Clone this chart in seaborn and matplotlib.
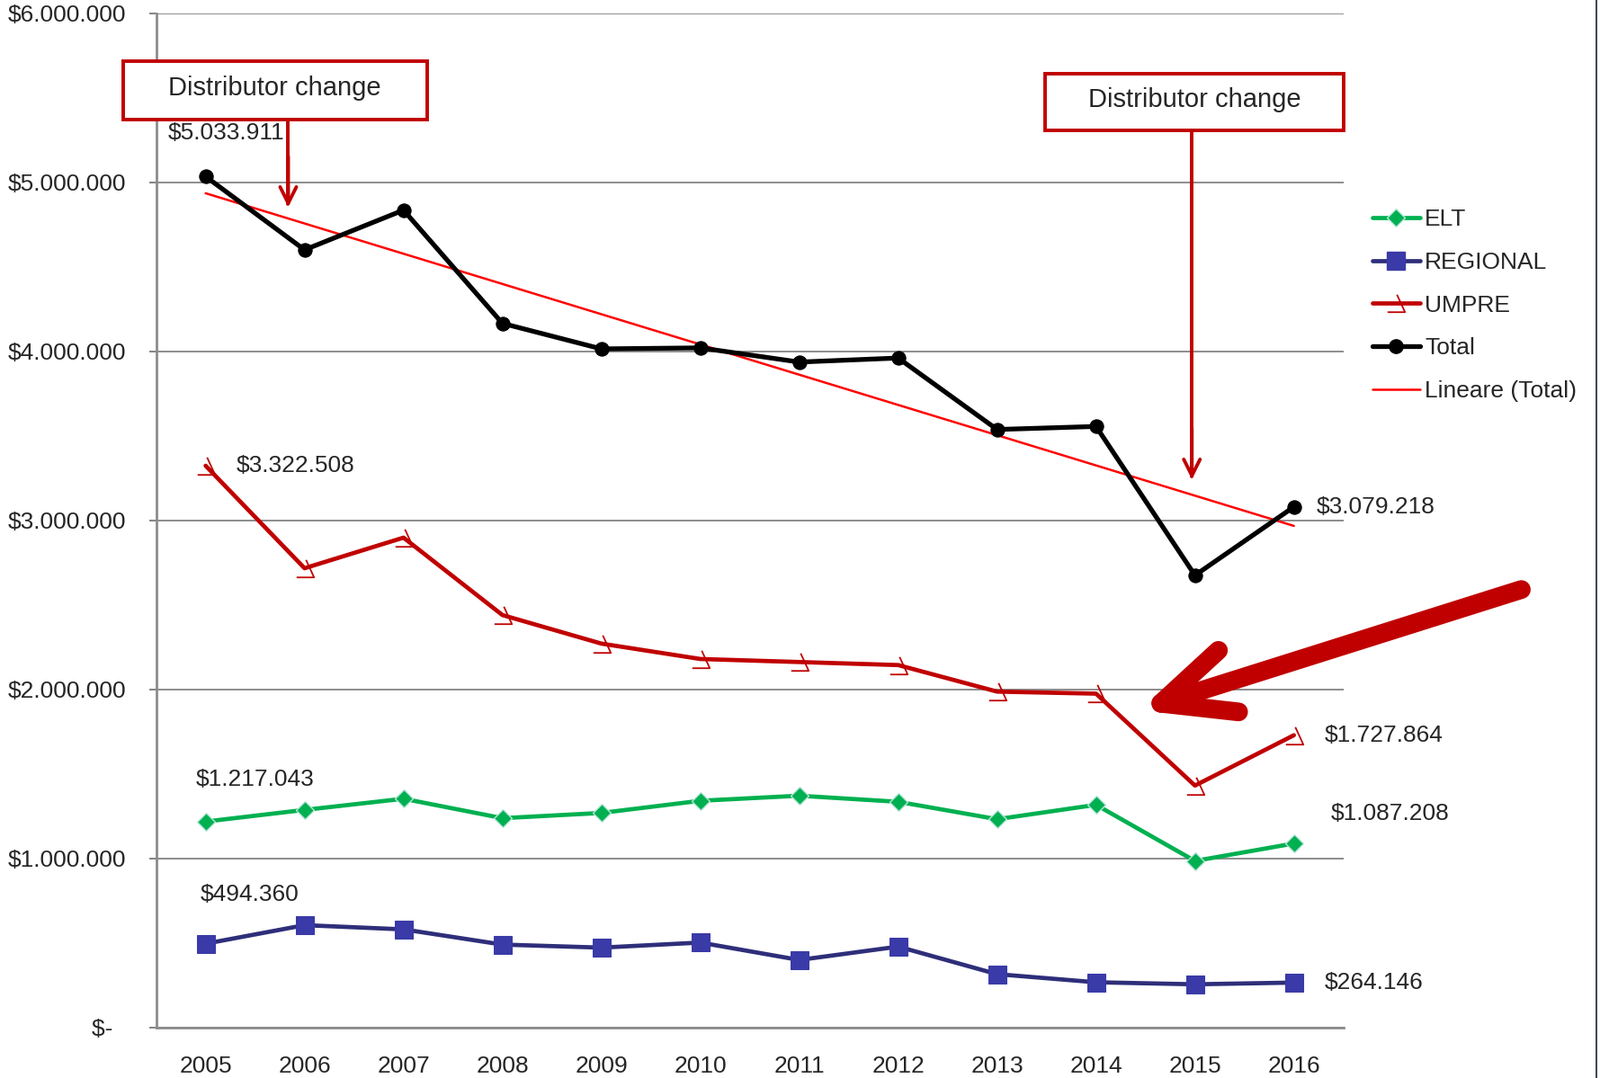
import numpy as np
import pandas as pd
import matplotlib
matplotlib.use("Agg")
import matplotlib.pyplot as plt
import seaborn as sns
from matplotlib.path import Path
from matplotlib.patches import Rectangle
from matplotlib.lines import Line2D

# ---------- data ----------
years = [2005, 2006, 2007, 2008, 2009, 2010, 2011, 2012, 2013, 2014, 2015, 2016]
elt = [1217043, 1286000, 1352000, 1237000, 1268000, 1340000, 1370000, 1334000, 1231000, 1316000, 984000, 1087208]
regional = [494360, 604000, 579000, 489000, 471000, 501000, 398000, 477000, 314000, 266000, 254000, 264146]
umpre = [3322508, 2716000, 2897000, 2439000, 2270000, 2179000, 2161000, 2143000, 1986000, 1974000, 1430000, 1727864]
total = [5033911, 4600000, 4835000, 4165000, 4014000, 4020000, 3936000, 3960000, 3537000, 3555000, 2674000, 3079218]
yticks = [0, 1000000, 2000000, 3000000, 4000000, 5000000, 6000000]
note = "Distributor change"

df = pd.DataFrame({"year": years, "ELT": elt, "REGIONAL": regional,
                   "UMPRE": umpre, "Total": total})

def money(v):
    if v == 0:
        return "$-  "
    return "$" + f"{v:,.0f}".replace(",", ".")

sns.set_style("white")
plt.rcParams['font.family'] = ['Liberation Sans', 'DejaVu Sans']
FS = 19
RED = "#C00000"

fig = plt.figure(figsize=(17.79, 11.99), dpi=100)
ax = fig.add_axes([0.0976, 0.0471, 0.742, 0.9406])

# open triangle marker like the excel one
tri = Path([(-1, -1), (1, -1), (0.08, 1)], [Path.MOVETO, Path.LINETO, Path.LINETO])

# trend line (linear fit of Total)
slope, icpt = np.polyfit(years, total, 1)
trend = slope * np.array(years) + icpt

sty = {
    "ELT": dict(color="#00B050", linewidth=3.4, marker="D", markersize=10,
                markerfacecolor="#00B050", markeredgecolor="#B8E6DC", markeredgewidth=1),
    "REGIONAL": dict(color="#2E2E7A", linewidth=3.4, marker="s", markersize=14,
                     markerfacecolor="#3A3AA8", markeredgecolor="#3A3AA8"),
    "UMPRE": dict(color=RED, linewidth=3.4, marker=tri, markersize=14,
                  markerfacecolor="none", markeredgecolor=RED, markeredgewidth=1.3),
    "Total": dict(color="black", linewidth=3.8, marker="o", markersize=11,
                  markerfacecolor="black", markeredgecolor="black"),
}

sns.lineplot(x=df["year"], y=trend, ax=ax, color="#FF0000", linewidth=1.8, zorder=4)
for col in ["ELT", "REGIONAL", "UMPRE", "Total"]:
    sns.lineplot(data=df, x="year", y=col, ax=ax, zorder=5 if col == "Total" else 3, **sty[col])

# ---------- axes styling ----------
ax.set_xlim(2004.5, 2016.5)
ax.set_ylim(0, 6000000)
ax.set_xlabel("")
ax.set_ylabel("")
ax.set_yticks(yticks)
ax.set_yticklabels([money(v) for v in yticks], fontsize=FS)
ax.set_xticks(years)
ax.set_xticklabels([str(y) for y in years], fontsize=FS)
ax.set_xticks(np.arange(2004.5, 2017, 1), minor=True)
ax.tick_params(axis="x", which="major", length=0, pad=23)
ax.tick_params(axis="x", which="minor", length=12, width=1.5, color="#888888", direction="out")
ax.tick_params(axis="y", which="major", length=6, width=1.5, color="#888888",
               direction="out", pad=18, left=True)
ax.grid(axis="y", color="#8C8C8C", linewidth=1.4)
ax.grid(axis="x", visible=False)
for s in ["top", "right"]:
    ax.spines[s].set_visible(False)
for s in ["left", "bottom"]:
    ax.spines[s].set_color("#8C8C8C")
    ax.spines[s].set_linewidth(2)

# ---------- data labels on first / last points ----------
lab = [
    ("Total", 0, (-42, 48)), ("Total", -1, (25, 0)),
    ("UMPRE", 0, (34, 0)), ("UMPRE", -1, (34, 0)),
    ("ELT", 0, (-11, 47)), ("ELT", -1, (41, 33)),
    ("REGIONAL", 0, (-6, 55)), ("REGIONAL", -1, (34, 0)),
]
for col, i, off in lab:
    v = df[col].iloc[i]
    ax.annotate(money(v), xy=(df["year"].iloc[i], v), xytext=off,
                textcoords="offset pixels", ha="left", va="center",
                fontsize=FS, annotation_clip=False)

# ---------- callouts ----------
for (x0, x1, y0, y1) in [(2004.165, 2007.237, 5372000, 5716000),
                         (2013.485, 2016.505, 5306000, 5644000)]:
    ax.add_patch(Rectangle((x0, y0), x1 - x0, y1 - y0, facecolor="white",
                           edgecolor=RED, linewidth=2.8, clip_on=False, zorder=6))
    ax.text((x0 + x1) / 2, (y0 + y1) / 2 + 15000, note, ha="center", va="center",
            fontsize=21, zorder=7, clip_on=False)

for (x, y0, y1) in [(2005.835, 5372000, 4853000), (2014.969, 5306000, 3241000)]:
    ax.plot([x, x], [y0, y1 + 20000], color=RED, linewidth=2.8, clip_on=False, zorder=6)
    ax.annotate("", xy=(x, y1), xytext=(x, y1 + 300000),
                arrowprops=dict(arrowstyle="->,head_length=1.3,head_width=0.65", color=RED, lw=2.8,
                                shrinkA=0, shrinkB=0), zorder=6, annotation_clip=False)

# big arrow pointing at UMPRE drop
tip = (2014.656, 1917000)
for end in [(2018.299, 2590000), (2015.237, 2230000), (2015.441, 1866000)]:
    ax.plot([end[0], tip[0]], [end[1], tip[1]], color=RED, linewidth=15,
            solid_capstyle="round", clip_on=False, zorder=6)

# ---------- legend ----------
handles = [Line2D([], [], **sty[c]) for c in ["ELT", "REGIONAL", "UMPRE", "Total"]]
handles.append(Line2D([], [], color="#FF0000", lw=1.8))
names = ["ELT", "REGIONAL", "UMPRE", "Total", "Lineare (Total)"]
fig.legend(handles, names, loc="upper left", bbox_to_anchor=(0.8578, 0.8064),
           frameon=False, fontsize=FS, borderpad=0, borderaxespad=0,
           handlelength=2.0, handletextpad=0.2, labelspacing=0.9, numpoints=1)

fig.add_artist(Line2D([0.9975, 0.9975], [0, 1], color="#3C4A5C", lw=1.5))

fig.savefig("out.png", dpi=100)
